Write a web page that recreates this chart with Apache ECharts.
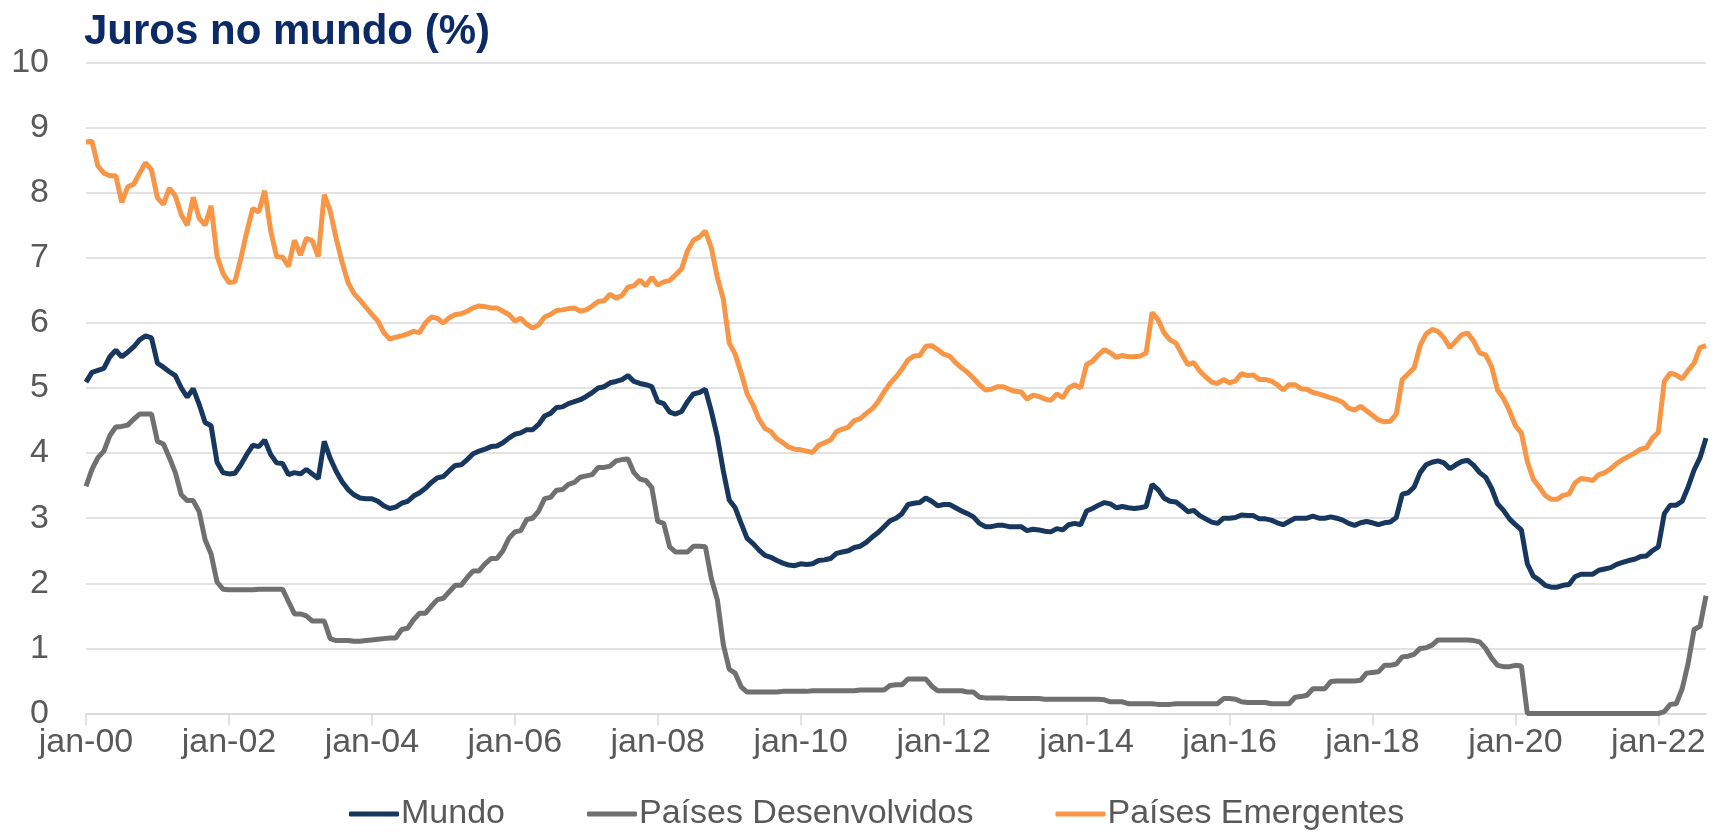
<!DOCTYPE html>
<html>
<head>
<meta charset="utf-8">
<title>Juros no mundo (%)</title>
<script src="https://cdn.jsdelivr.net/npm/echarts@6/dist/echarts.min.js"></script>
<style>
  html, body { margin: 0; padding: 0; background: #fff; }
  #chart { width: 1718px; height: 833px; }
</style>
</head>
<body>
<div id="chart"></div>
<script>
  // meses jan-00 .. set-22
  const monthNames = ['jan', 'fev', 'mar', 'abr', 'mai', 'jun', 'jul', 'ago', 'set', 'out', 'nov', 'dez'];
  const firstYear = 2000;
  const lastYear = 2022;
  const lastMonth = 9; // setembro

  // Mundo
  const mundo = [
    5.09, 5.24, 5.27, 5.30, 5.48, 5.58, 5.48, 5.55, 5.63, 5.74, 5.80, 5.77,
    5.38, 5.32, 5.25, 5.19, 5.00, 4.86, 4.99, 4.75, 4.47, 4.42, 3.86, 3.70,
    3.68, 3.69, 3.82, 3.98, 4.12, 4.10, 4.20, 3.98, 3.85, 3.84, 3.67, 3.70,
    3.68, 3.75, 3.68, 3.61, 4.18, 3.92, 3.72, 3.56, 3.44, 3.36, 3.31, 3.30,
    3.30, 3.26, 3.19, 3.15, 3.17, 3.23, 3.26, 3.34, 3.39, 3.46, 3.55, 3.62,
    3.64, 3.73, 3.81, 3.82, 3.90, 3.99, 4.03, 4.06, 4.10, 4.11, 4.16, 4.23,
    4.29, 4.31, 4.36, 4.36, 4.44, 4.57, 4.61, 4.70, 4.71, 4.76, 4.79, 4.82,
    4.87, 4.93, 5.00, 5.02, 5.08, 5.10, 5.13, 5.19, 5.10, 5.07, 5.05, 5.02,
    4.79, 4.76, 4.63, 4.60, 4.64, 4.79, 4.91, 4.93, 4.98, 4.64, 4.25, 3.73,
    3.28, 3.16, 2.92, 2.69, 2.61, 2.51, 2.43, 2.40, 2.35, 2.31, 2.28, 2.27,
    2.30, 2.29, 2.30, 2.35, 2.36, 2.38, 2.46, 2.48, 2.50, 2.55, 2.57, 2.63,
    2.71, 2.78, 2.87, 2.96, 3.00, 3.07, 3.21, 3.23, 3.24, 3.31, 3.26, 3.19,
    3.21, 3.21, 3.16, 3.11, 3.07, 3.02, 2.92, 2.87, 2.87, 2.89, 2.89, 2.87,
    2.87, 2.87, 2.81, 2.83, 2.82, 2.80, 2.79, 2.84, 2.82, 2.90, 2.92, 2.90,
    3.11, 3.15, 3.20, 3.24, 3.22, 3.16, 3.18, 3.16, 3.15, 3.16, 3.18, 3.52,
    3.44, 3.31, 3.26, 3.25, 3.18, 3.10, 3.12, 3.04, 2.99, 2.94, 2.92, 3.00,
    3.00, 3.01, 3.05, 3.04, 3.04, 2.99, 2.99, 2.97, 2.93, 2.90, 2.95, 3.00,
    3.00, 3.00, 3.03, 3.00, 3.00, 3.02, 3.00, 2.97, 2.92, 2.89, 2.93, 2.95,
    2.93, 2.90, 2.93, 2.94, 3.01, 3.37, 3.39, 3.48, 3.70, 3.82, 3.86, 3.88,
    3.85, 3.76, 3.82, 3.87, 3.89, 3.81, 3.70, 3.63, 3.46, 3.22, 3.12, 2.99,
    2.90, 2.82, 2.30, 2.11, 2.05, 1.97, 1.94, 1.94, 1.97, 1.98, 2.10, 2.14,
    2.14, 2.14, 2.20, 2.22, 2.24, 2.29, 2.32, 2.35, 2.37, 2.41, 2.42, 2.50,
    2.56, 3.07, 3.20, 3.20, 3.26, 3.48, 3.74, 3.93, 4.23
  ];

  // Países Desenvolvidos
  const desenvolvidos = [
    3.49, 3.75, 3.93, 4.03, 4.27, 4.40, 4.41, 4.43, 4.52, 4.60, 4.60, 4.60,
    4.18, 4.14, 3.93, 3.70, 3.36, 3.27, 3.27, 3.10, 2.67, 2.45, 2.02, 1.91,
    1.90, 1.90, 1.90, 1.90, 1.90, 1.91, 1.91, 1.91, 1.91, 1.91, 1.72, 1.53,
    1.53, 1.50, 1.42, 1.42, 1.42, 1.15, 1.12, 1.12, 1.12, 1.11, 1.11, 1.12,
    1.13, 1.14, 1.15, 1.16, 1.16, 1.29, 1.31, 1.44, 1.54, 1.54, 1.65, 1.75,
    1.77, 1.87, 1.97, 1.97, 2.09, 2.19, 2.19, 2.30, 2.38, 2.38, 2.50, 2.69,
    2.79, 2.81, 2.98, 3.00, 3.11, 3.30, 3.32, 3.43, 3.44, 3.52, 3.55, 3.63,
    3.65, 3.67, 3.78, 3.78, 3.80, 3.88, 3.90, 3.91, 3.70, 3.60, 3.58, 3.47,
    2.95, 2.92, 2.56, 2.48, 2.48, 2.48, 2.57, 2.57, 2.56, 2.07, 1.75, 1.06,
    0.68, 0.62, 0.41, 0.33, 0.33, 0.33, 0.33, 0.33, 0.33, 0.34, 0.34, 0.34,
    0.34, 0.34, 0.35, 0.35, 0.35, 0.35, 0.35, 0.35, 0.35, 0.35, 0.36, 0.36,
    0.36, 0.36, 0.36, 0.43, 0.44, 0.44, 0.53, 0.53, 0.53, 0.53, 0.42, 0.35,
    0.35, 0.35, 0.35, 0.35, 0.33, 0.33, 0.25, 0.24, 0.24, 0.24, 0.24, 0.23,
    0.23, 0.23, 0.23, 0.23, 0.23, 0.22, 0.22, 0.22, 0.22, 0.22, 0.22, 0.22,
    0.22, 0.22, 0.22, 0.21, 0.18, 0.18, 0.18, 0.15, 0.15, 0.15, 0.15, 0.15,
    0.14, 0.14, 0.14, 0.15, 0.15, 0.15, 0.15, 0.15, 0.15, 0.15, 0.15, 0.23,
    0.23, 0.22, 0.18, 0.17, 0.17, 0.17, 0.17, 0.15, 0.15, 0.15, 0.15, 0.25,
    0.26, 0.28, 0.38, 0.38, 0.38, 0.49, 0.50, 0.50, 0.50, 0.50, 0.51, 0.62,
    0.63, 0.64, 0.74, 0.74, 0.76, 0.87, 0.88, 0.91, 1.00, 1.01, 1.05, 1.13,
    1.13, 1.13, 1.13, 1.13, 1.13, 1.12, 1.10, 1.00, 0.85, 0.74, 0.72, 0.72,
    0.74, 0.73, 0.00, 0.00, 0.00, 0.00, 0.00, 0.00, 0.00, 0.00, 0.00, 0.00,
    0.00, 0.00, 0.00, 0.00, 0.00, 0.00, 0.00, 0.00, 0.00, 0.00, 0.00, 0.00,
    0.00, 0.03, 0.14, 0.15, 0.38, 0.77, 1.29, 1.34, 1.81
  ];

  // Países Emergentes
  const emergentes = [
    8.78, 8.79, 8.41, 8.30, 8.26, 8.26, 7.85, 8.09, 8.13, 8.30, 8.46, 8.35,
    7.92, 7.82, 8.07, 7.95, 7.66, 7.50, 7.93, 7.61, 7.50, 7.80, 7.03, 6.76,
    6.62, 6.63, 6.99, 7.40, 7.76, 7.70, 8.03, 7.42, 7.02, 7.01, 6.87, 7.27,
    7.04, 7.30, 7.26, 7.02, 7.97, 7.72, 7.30, 6.93, 6.62, 6.45, 6.35, 6.24,
    6.13, 6.03, 5.85, 5.75, 5.78, 5.80, 5.83, 5.87, 5.85, 6.00, 6.09, 6.07,
    6.00, 6.08, 6.13, 6.14, 6.18, 6.23, 6.26, 6.25, 6.23, 6.23, 6.18, 6.13,
    6.03, 6.07, 5.98, 5.92, 5.97, 6.09, 6.13, 6.19, 6.20, 6.22, 6.23, 6.18,
    6.20, 6.26, 6.33, 6.34, 6.44, 6.38, 6.42, 6.55, 6.57, 6.66, 6.57, 6.70,
    6.58, 6.63, 6.65, 6.74, 6.83, 7.11, 7.27, 7.32, 7.41, 7.15, 6.70, 6.37,
    5.69, 5.52, 5.23, 4.91, 4.74, 4.52, 4.38, 4.33, 4.22, 4.16, 4.09, 4.06,
    4.05, 4.03, 4.01, 4.12, 4.16, 4.20, 4.33, 4.37, 4.40, 4.50, 4.53, 4.61,
    4.68, 4.79, 4.94, 5.07, 5.17, 5.29, 5.43, 5.49, 5.50, 5.64, 5.65, 5.59,
    5.52, 5.49, 5.39, 5.31, 5.24, 5.15, 5.05, 4.97, 4.98, 5.02, 5.02, 4.98,
    4.95, 4.94, 4.83, 4.89, 4.87, 4.83, 4.81, 4.91, 4.85, 5.00, 5.05, 5.00,
    5.36, 5.41, 5.51, 5.59, 5.54, 5.47, 5.50, 5.48, 5.48, 5.49, 5.54, 6.16,
    6.05, 5.85, 5.74, 5.69, 5.52, 5.36, 5.39, 5.26, 5.17, 5.09, 5.07, 5.13,
    5.08, 5.11, 5.22, 5.19, 5.20, 5.13, 5.13, 5.11, 5.05, 4.97, 5.05, 5.05,
    4.99, 4.98, 4.93, 4.91, 4.88, 4.85, 4.82, 4.78, 4.69, 4.66, 4.72, 4.65,
    4.58, 4.51, 4.48, 4.49, 4.60, 5.13, 5.22, 5.31, 5.65, 5.83, 5.90, 5.87,
    5.77, 5.62, 5.72, 5.82, 5.84, 5.72, 5.54, 5.51, 5.33, 4.97, 4.84, 4.65,
    4.42, 4.31, 3.87, 3.60, 3.48, 3.35, 3.29, 3.29, 3.35, 3.37, 3.54, 3.61,
    3.60, 3.58, 3.67, 3.70, 3.76, 3.84, 3.90, 3.95, 4.00, 4.06, 4.08, 4.23,
    4.32, 5.10, 5.23, 5.20, 5.14, 5.27, 5.38, 5.62, 5.65
  ];

  const yTicks = [0, 10, 1]; // min, max, intervalo

  const meses = [];
  for (let y = firstYear; y <= lastYear; y++) {
    for (let m = 0; m < 12; m++) {
      if (y === lastYear && m >= lastMonth) break;
      meses.push(monthNames[m] + '-' + String(y % 100).padStart(2, '0'));
    }
  }

  const gridColor = '#d9d9d9';
  const labelColor = '#595959';
  const font = "'Liberation Sans', Arial, sans-serif";

  const chart = echarts.init(document.getElementById('chart'));
  const option = {
    animation: false,
    title: {
      text: 'Juros no mundo (%)',
      left: 79,
      top: 6,
      textStyle: {
        fontFamily: font,
        fontSize: 42,
        fontWeight: 'bold',
        color: '#0c2a66',
      },
    },
    legend: {
      left: 344,
      bottom: -3,
      itemGap: 82,
      itemWidth: 50,
      itemHeight: 5,
      icon: 'roundRect',
      textStyle: {
        fontFamily: font,
        fontSize: 34,
        color: labelColor,
        padding: [0, 0, 0, -3],
      },
    },
    grid: {
      left: 86,
      right: 12,
      top: 62.5,
      bottom: 119.5,
    },
    xAxis: {
      type: 'category',
      boundaryGap: false,
      data: meses,
      axisLine: {
        lineStyle: { color: gridColor, width: 1.5 },
      },
      axisTick: {
        show: true,
        length: 12,
        interval: (index) => index % 24 === 0,
        lineStyle: { color: gridColor, width: 1.5 },
      },
      axisLabel: {
        interval: (index) => index % 24 === 0,
        fontFamily: font,
        fontSize: 34,
        color: labelColor,
        margin: 12,
      },
    },
    yAxis: {
      type: 'value',
      min: yTicks[0],
      max: yTicks[1],
      interval: yTicks[2],
      axisLine: { show: false },
      axisTick: { show: false },
      splitLine: {
        lineStyle: { color: gridColor, width: 1.5 },
      },
      axisLabel: {
        fontFamily: font,
        fontSize: 34,
        color: labelColor,
        margin: 37,
      },
    },
    series: [
      {
        name: 'Mundo',
        type: 'line',
        data: mundo,
        showSymbol: false,
        color: '#17375e',
        lineStyle: { width: 5 },
      },
      {
        name: 'Países Desenvolvidos',
        type: 'line',
        data: desenvolvidos,
        showSymbol: false,
        color: '#707070',
        lineStyle: { width: 5 },
      },
      {
        name: 'Países Emergentes',
        type: 'line',
        data: emergentes,
        showSymbol: false,
        color: '#f79646',
        lineStyle: { width: 5 },
      },
    ],
  };
  chart.setOption(option);
</script>
</body>
</html>
